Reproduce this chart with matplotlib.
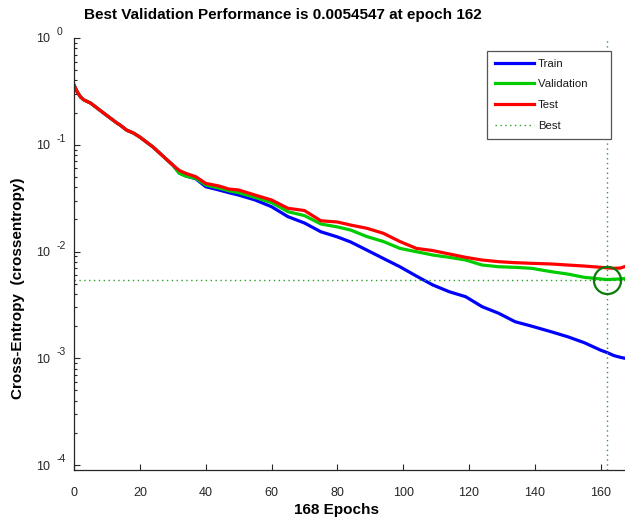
import matplotlib
matplotlib.use('Agg')
import matplotlib.pyplot as plt
import matplotlib.transforms as mtransforms
from matplotlib.lines import Line2D

plt.rcParams['font.family'] = ['Liberation Sans', 'DejaVu Sans']

# values
epochs = [0, 1, 2, 3, 5, 7, 9, 11, 13, 14, 16, 18, 20, 22, 24, 26, 28, 30,
          32, 34, 37, 40, 44, 47, 50, 55, 60, 65, 70, 75, 80, 84, 89, 94, 99,
          104, 109, 114, 119, 124, 129, 134, 139, 145, 150, 155, 160, 162,
          164, 166, 168]
early = [0.363, 0.312, 0.280, 0.263, 0.246, 0.221, 0.198, 0.178, 0.160,
         0.153, 0.137, 0.129, 0.118, 0.106, 0.0953, 0.0837, 0.0735, 0.0646]
train = early + [0.0543, 0.051, 0.048, 0.0405, 0.0377, 0.0356, 0.0338, 0.0304,
                 0.0263, 0.0212, 0.0185, 0.0153, 0.0137, 0.0123, 0.0103, 0.0086,
                 0.0072, 0.00589, 0.00486, 0.0042, 0.00377, 0.00304, 0.00264,
                 0.0022, 0.0020, 0.00177, 0.00159, 0.0014, 0.00119, 0.00113,
                 0.00106, 0.00102, 0.00099]
validation = early + [0.0540, 0.0508, 0.0485, 0.0420, 0.0393, 0.0371, 0.0356,
                      0.0321, 0.0287, 0.0236, 0.0217, 0.0181, 0.0170, 0.0159,
                      0.0138, 0.0124, 0.0107, 0.00996, 0.00927, 0.00882,
                      0.00832, 0.00747, 0.0072, 0.00711, 0.00696, 0.00647,
                      0.00615, 0.00573, 0.00553, 0.0054547, 0.0055, 0.00553,
                      0.00562]
test = early + [0.0574, 0.0539, 0.0502, 0.0435, 0.0411, 0.0385, 0.0377, 0.0338,
                0.0304, 0.0254, 0.0242, 0.0194, 0.0189, 0.0177, 0.0165, 0.0148,
                0.0124, 0.0107, 0.0102, 0.00948, 0.00882, 0.00832, 0.00803,
                0.00786, 0.00775, 0.00764, 0.00747, 0.00731, 0.00711, 0.00703,
                0.00696, 0.0070, 0.00735]
best_epoch = 162
best_perf = 0.0054547
n_epochs = 168
xticks = [0, 20, 40, 60, 80, 100, 120, 140, 160]
ydecades = [1e-4, 1e-3, 1e-2, 1e-1, 1e0]
yexponents = ['-4', '-3', '-2', '-1', '0']
legend_labels = ['Train', 'Validation', 'Test', 'Best']

fig = plt.figure(figsize=(6.25, 5.2), dpi=100)
W, H = 625, 520
ax = fig.add_axes([74 / W, 50 / H, 553 / W, 432 / H])

ax.semilogy(epochs, train, color='#0000ff', lw=2.3)
ax.semilogy(epochs, validation, color='#00cc00', lw=2.3)
ax.semilogy(epochs, test, color='#ff0000', lw=2.3)
best_style = dict(color='#2ca02c', lw=1.0, linestyle=(0, (1, 2.5)))
ax.axhline(best_perf, **best_style)
ax.axvline(best_epoch, **best_style)
ax.plot([best_epoch], [best_perf], 'o', mfc='none', mec='#0a7a0a',
        ms=19.5, mew=1.6)

ax.set_xlim(0, n_epochs)
ax.set_ylim(8.98e-5, 1.0)
ax.set_xticks(xticks)
ax.set_yticks(ydecades)
ax.set_yticklabels(['10'] * len(ydecades))
ax.minorticks_on()
ax.xaxis.set_minor_locator(matplotlib.ticker.NullLocator())
ax.yaxis.set_minor_formatter(matplotlib.ticker.NullFormatter())
ax.tick_params(axis='both', which='both', direction='in', colors='#262626',
               labelsize=9)
ax.tick_params(axis='both', which='major', length=4.5, width=0.8)
ax.tick_params(axis='y', which='minor', length=2.5, width=0.8)
ax.tick_params(axis='x', which='major', pad=12)
ax.tick_params(axis='y', which='major', pad=17)
for side in ['top', 'right']:
    ax.spines[side].set_visible(False)
for side in ['left', 'bottom']:
    ax.spines[side].set_color('#262626')
    ax.spines[side].set_linewidth(0.9)

# exponents written as raised text next to the "10" labels
exp_trans = mtransforms.offset_copy(ax.get_yaxis_transform(), fig=fig,
                                    x=-17, y=6, units='dots')
for d, e in zip(ydecades, yexponents):
    ax.text(0, d, e, transform=exp_trans, ha='left', va='center',
            fontsize=7.5, color='#262626', clip_on=False)

handles = [Line2D([], [], color='#0000ff', lw=2.3),
           Line2D([], [], color='#00cc00', lw=2.3),
           Line2D([], [], color='#ff0000', lw=2.3),
           Line2D([], [], **best_style)]
# trailing spaces widen the box like the reference
labels = [legend_labels[0], legend_labels[1] + '\u00a0' * 5,
          legend_labels[2], legend_labels[3]]
leg = fig.legend(handles, labels,
                 loc='upper right', bbox_to_anchor=(611 / W, 1 - 51 / H),
                 borderaxespad=0, fontsize=8.2, handlelength=3.4,
                 handletextpad=0.4, labelspacing=0.94, borderpad=0.68,
                 fancybox=False, framealpha=1)
leg.get_frame().set_edgecolor('#555555')
leg.get_frame().set_linewidth(0.9)
for t in leg.get_texts():
    t.set_color('#1a1a1a')

fig.text(283 / W, 1 - 15 / H,
         'Best Validation Performance is 0.0054547 at epoch 162',
         ha='center', va='center', fontsize=11, fontweight='bold')
fig.text(336 / W, 1 - 510 / H, '168 Epochs', ha='center', va='center',
         fontsize=11, fontweight='bold')
fig.text(18 / W, 1 - 288 / H, 'Cross-Entropy  (crossentropy)', ha='center',
         va='center', rotation=90, fontsize=11, fontweight='bold')

fig.savefig('out.png', dpi=100)
